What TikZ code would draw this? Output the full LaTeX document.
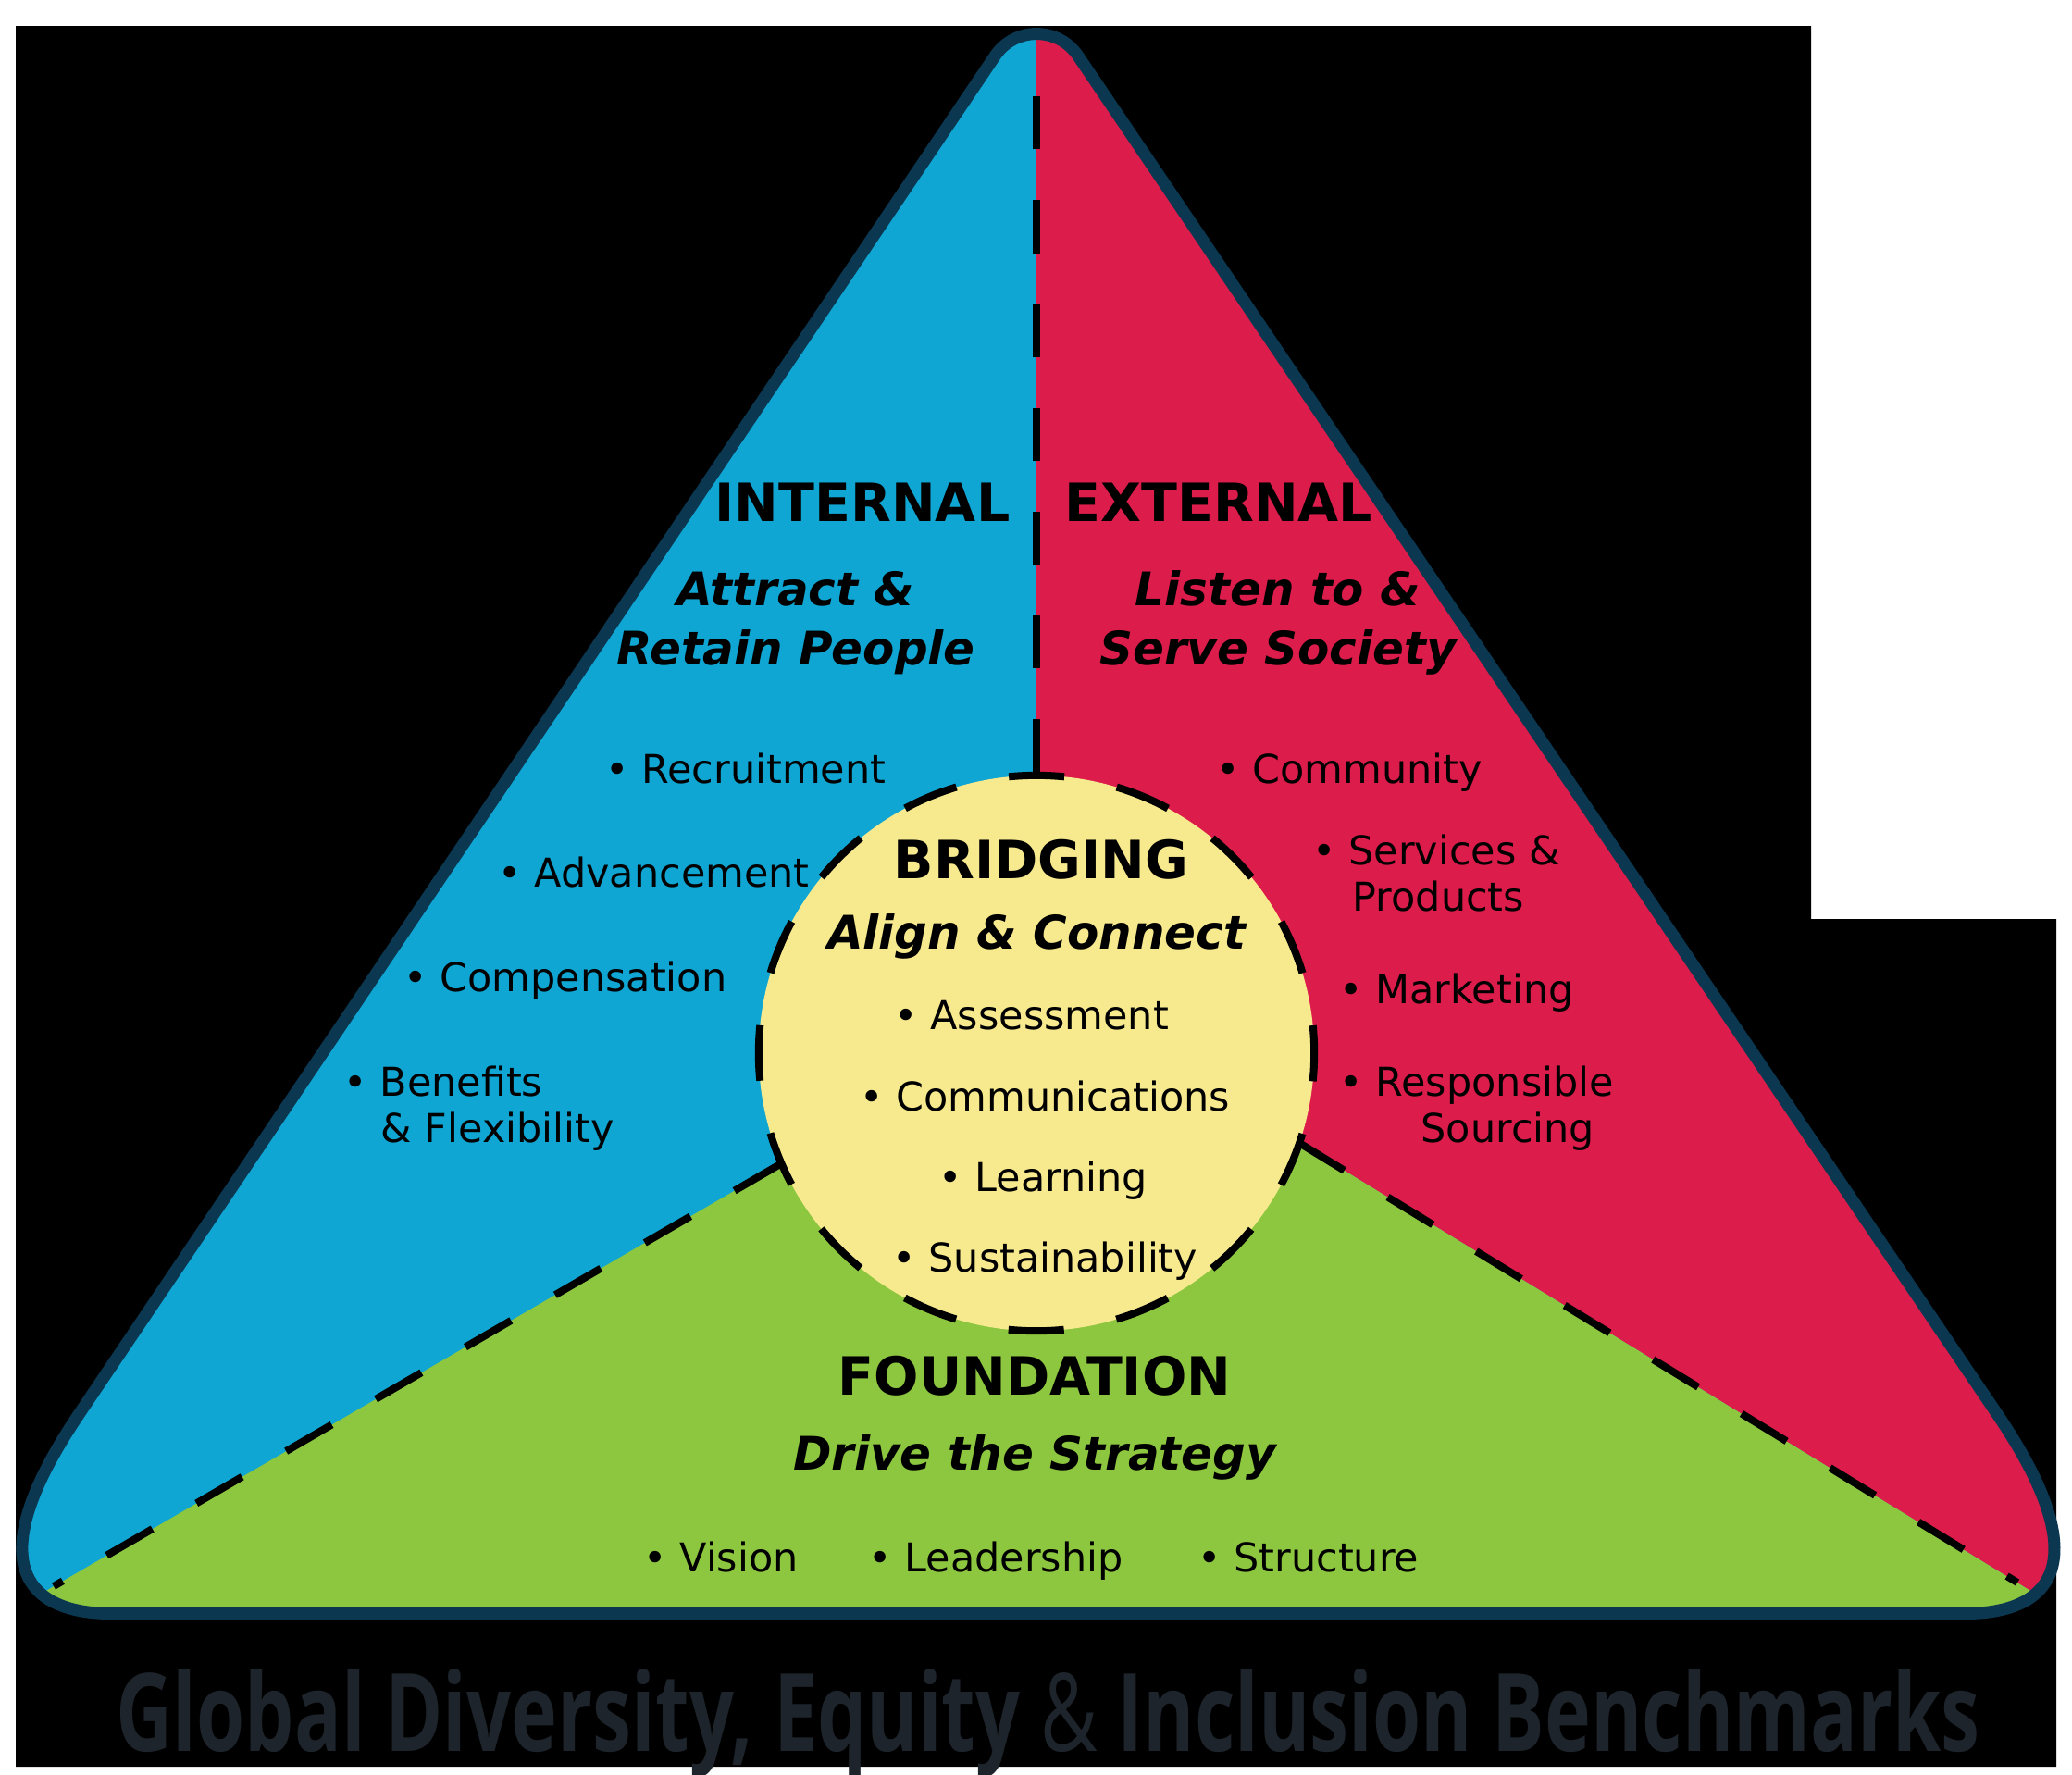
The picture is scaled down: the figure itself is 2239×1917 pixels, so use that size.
\documentclass[tikz,border=0pt]{standalone}
\usepackage{graphicx}
\usepackage{fontspec}
\setmainfont{DejaVu Sans}
\newfontfamily\titlefont{Open Sans}
\usetikzlibrary{calc}
\definecolor{cBlue}{HTML}{10A6D3}
\definecolor{cRed}{HTML}{DC1C4B}
\definecolor{cGreen}{HTML}{8DC63F}
\definecolor{cYellow}{HTML}{F7E98E}
\definecolor{cRim}{HTML}{0B3750}
\definecolor{cTitle}{HTML}{1E242B}
\tikzset{
  every node/.style={font=\fontsize{12.2}{14}\selectfont, text=black, inner sep=0pt},
  secthead/.style={font=\fontsize{16.2}{19}\selectfont\bfseries, anchor=base},
  sectsub/.style={font=\fontsize{14.2}{18}\selectfont\bfseries\itshape, anchor=base},
  bul/.style={anchor=base west},
  divline/.style={draw=black, line width=0.08cm, dash pattern=on 0.57cm off 0.55cm},
  hub/.style={circle, minimum size=6cm, fill=cYellow, draw=black, line width=0.08cm, dash pattern=on 0.6cm off 0.578cm, dash phase=0.3cm},
  rim/.style={draw=cRim, line width=0.13cm, line join=round},
}
\begin{document}
\begin{tikzpicture}[x=0.01cm,y=-0.01cm]
\useasboundingbox (0,0) rectangle (2239,1917);
% page and dark backdrop
\fill[white] (0,0) rectangle (2239,1917);
\fill[black] (17,28) -- (1957,28) -- (1957,993) -- (2222,993) -- (2222,1909) -- (17,1909) -- cycle;
% triangle corners and rounding points
\coordinate (apx) at (1120,-6);
\coordinate (lft) at (-60,1743.5);
\coordinate (rgt) at (2304,1743.5);
\coordinate (a1) at ($(apx)!0.8cm!(lft)$);
\coordinate (a2) at ($(apx)!0.8cm!(rgt)$);
\coordinate (l1) at ($(lft)!2.6cm!(apx)$);
\coordinate (l2) at ($(lft)!1.8cm!(rgt)$);
\coordinate (r1) at ($(rgt)!1.8cm!(lft)$);
\coordinate (r2) at ($(rgt)!2.6cm!(apx)$);
% dividers
\coordinate (ctr) at (1120,1138);
\coordinate (et) at (1120,63);
\coordinate (cl) at (843,1258);
\coordinate (el) at (58,1714);
\coordinate (cr) at (1404,1235);
\coordinate (er) at (2180,1710);
\path[save path=\tripath] (a2) .. controls ($(a2)!0.478!(apx)$) and ($(a1)!0.478!(apx)$) .. (a1)
  -- (l1) .. controls ($(l1)!0.8!(lft)$) and ($(l2)!0.45!(lft)$) .. (l2)
  -- (r1) .. controls ($(r1)!0.45!(rgt)$) and ($(r2)!0.8!(rgt)$) .. (r2) -- cycle;
\fill[cBlue, use path=\tripath];
\begin{scope}
\clip[use path=\tripath];
\fill[cRed] (1120,-100) -- (2400,-100) -- (2400,1845) -- (cr) -- (ctr) -- cycle;
\fill[cGreen] (cl) -- (-100,1806) -- (-100,1950) -- (2400,1950) -- (2400,1845) -- (cr) -- (ctr) -- cycle;
\end{scope}
\node[hub] (bridge) at (ctr) {};
\draw[divline] (bridge.north) -- (et);
\draw[divline] (cl) -- (el);
\draw[divline] (cr) -- (er);
\draw[rim, use path=\tripath];
% internal
\node[secthead, anchor=base east] (inthead) at (1092,563) {INTERNAL};
\node[sectsub] (intsuba) at (860,654) {Attract \&};
\node[sectsub] (intsubb) at (860,718) {Retain People};
\node[bul] (recr) at (654,846) {\textbullet\ Recruitment};
\node[bul] (adv) at (538,958) {\textbullet\ Advancement};
\node[bul] (comp) at (436,1071) {\textbullet\ Compensation};
\node[bul] (bena) at (371,1184) {\textbullet\ Benefits};
\node[bul] (benb) at (411,1234) {\& Flexibility};
% external
\node[secthead, anchor=base west] (exthead) at (1150,563) {EXTERNAL};
\node[sectsub] (extsuba) at (1381,654) {Listen to \&};
\node[sectsub] (extsubb) at (1381,718) {Serve Society};
\node[bul] (comm) at (1314,846) {\textbullet\ Community};
\node[bul] (serva) at (1418,934) {\textbullet\ Services \&};
\node[bul] (servb) at (1461,984) {Products};
\node[bul] (mark) at (1447,1084) {\textbullet\ Marketing};
\node[bul] (respa) at (1447,1184) {\textbullet\ Responsible};
\node[bul] (respb) at (1535,1234) {Sourcing};
% bridging
\node[secthead] (bridhead) at (1125,949) {BRIDGING};
\node[sectsub] (bridsub) at (1120,1025) {Align \& Connect};
\node[bul] (assess) at (966,1112) {\textbullet\ Assessment};
\node[bul] (commu) at (929,1200) {\textbullet\ Communications};
\node[bul] (learn) at (1014,1287) {\textbullet\ Learning};
\node[bul] (sustain) at (964,1374) {\textbullet\ Sustainability};
% foundation
\node[secthead] (foundhead) at (1118,1507) {FOUNDATION};
\node[sectsub] (foundsub) at (1118,1588) {Drive the Strategy};
\node[bul] (vision) at (695,1698) {\textbullet\ Vision};
\node[bul] (lead) at (938,1698) {\textbullet\ Leadership};
\node[bul] (struct) at (1294,1698) {\textbullet\ Structure};
% title
\node[anchor=base west, text=cTitle] (title) at (125,1892) {\resizebox{20.13cm}{0.89cm}{\titlefont\bfseries Global Diversity, Equity {\mdseries\&} Inclusion Benchmarks}};
\end{tikzpicture}
\end{document}
